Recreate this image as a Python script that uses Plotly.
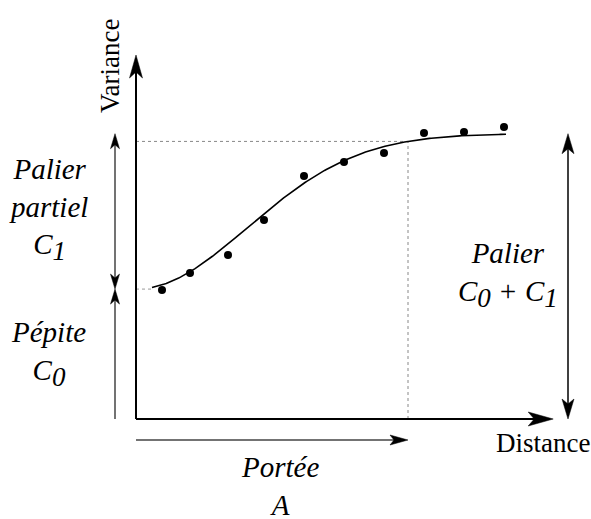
import numpy as np
import plotly.graph_objs as go

# experimental variogram points (distance, variance)
distance = [0.65, 1.35, 2.3, 3.2, 4.2, 5.2, 6.2, 7.2, 8.2, 9.2]
variance = [4.61, 5.21, 5.86, 7.11, 8.68, 9.18, 9.5, 10.21, 10.25, 10.43]

# gaussian model parameters
C0 = 4.64   # nugget (pepite)
C1 = 5.55   # partial sill
A = 6.8     # range (portee)
H_MAX = 9.25

X_END = 10.43   # end of distance axis
Y_END = 13.0    # end of variance axis

# pixels per data unit (used for the layout + arrow heads)
PX_X = 40.0
PX_Y = 28.0
W, H = 591, 519
X0_PX, Y0_PX = 136, 419

SERIF = "Liberation Serif"


def model(h):
    return C0 + C1 * (1 - np.exp(-3 * (h / A) ** 2))


def arrow_head(x, y, dx, dy, length, half, notch, color="black"):
    # build a notched arrow head polygon in pixel space then convert to data units
    d = np.array([dx, dy], dtype=float)
    d = d / np.linalg.norm(d)
    n = np.array([-d[1], d[0]])
    tip = np.array([0.0, 0.0])
    base = tip - d * length
    pts = [tip, base + n * half, tip - d * (length - notch), base - n * half, tip]
    xs = [x + p[0] / PX_X for p in pts]
    ys = [y + p[1] / PX_Y for p in pts]
    return go.Scatter(x=xs, y=ys, mode="lines", fill="toself", fillcolor=color,
                      line=dict(color=color, width=0.5), hoverinfo="skip", showlegend=False)


def seg(x, y, color="black", width=2, dash=None):
    return go.Scatter(x=x, y=y, mode="lines", line=dict(color=color, width=width, dash=dash),
                      hoverinfo="skip", showlegend=False)


fig = go.Figure()

sill = C0 + C1
gA = float(model(A))
left_x = -21 / PX_X
right_x = 432 / PX_X
bottom_y = -21 / PX_Y

# dotted guides
fig.add_trace(seg([0, A], [gA, gA], color="#888", width=1, dash="dot"))
fig.add_trace(seg([A, A], [0, gA], color="#888", width=1, dash="dot"))
fig.add_trace(seg([0, 0.4], [C0, C0], color="#999", width=1, dash="dot"))

# axes
fig.add_trace(seg([0, 0], [0, Y_END - 12 / PX_Y]))
fig.add_trace(arrow_head(0, Y_END, 0, 1, 23, 6.5, 6))
fig.add_trace(seg([0, X_END - 12 / PX_X], [0, 0]))
fig.add_trace(arrow_head(X_END, 0, 1, 0, 25, 7, 6))

# model curve
h = np.linspace(0.4, H_MAX, 200)
fig.add_trace(go.Scatter(x=h, y=model(h), mode="lines", line=dict(color="black", width=1.6),
                         hoverinfo="skip", showlegend=False))

# experimental points
fig.add_trace(go.Scatter(x=distance, y=variance, mode="markers",
                         marker=dict(color="black", size=8), showlegend=False))

# left arrows: nugget and partial sill
fig.add_trace(seg([left_x, left_x], [0, C0 - 8 / PX_Y], color="#444", width=1.5))
fig.add_trace(arrow_head(left_x, C0, 0, 1, 15, 4.5, 4))
fig.add_trace(seg([left_x, left_x], [C0 + 8 / PX_Y, sill - 8 / PX_Y], color="#444", width=1.5))
fig.add_trace(arrow_head(left_x, C0, 0, -1, 15, 4.5, 4))
fig.add_trace(arrow_head(left_x, sill, 0, 1, 15, 4.5, 4))

# right arrow: total sill
fig.add_trace(seg([right_x, right_x], [10 / PX_Y, sill - 10 / PX_Y], width=1.5))
fig.add_trace(arrow_head(right_x, sill, 0, 1, 20, 6, 5))
fig.add_trace(arrow_head(right_x, 0, 0, -1, 20, 6, 5))

# bottom arrow: range
fig.add_trace(seg([0, A - 8 / PX_X], [bottom_y, bottom_y], color="#444", width=1.5))
fig.add_trace(arrow_head(A, bottom_y, 1, 0, 18, 5, 4))


def label(text, x, y, size=29, italic=True, angle=0):
    fig.add_annotation(x=x, y=y, xref="x", yref="y", text=text, showarrow=False,
                       textangle=angle, align="center",
                       font=dict(family=SERIF, size=size, color="black",
                                 style="italic" if italic else "normal"))


def px(xp, yp):
    return (xp - X0_PX) / PX_X, (Y0_PX - yp) / PX_Y


sub0 = 'C<sub><span style="font-size:27px">0</span></sub>'
sub1 = 'C<sub><span style="font-size:27px">1</span></sub>'

label("Variance", *px(110, 66), size=27, italic=False, angle=-90)
label("Distance", *px(543, 443), size=27, italic=False)
label("Palier<br>partiel<br>" + sub1, *px(48, 209))
label("Pépite<br>" + sub0, *px(48, 354))
label("Palier<br>" + sub0 + " + " + sub1, *px(508, 275))
label("Portée<br>A", *px(280, 486))

fig.update_layout(
    width=W, height=H,
    margin=dict(l=0, r=0, t=0, b=0),
    plot_bgcolor="white", paper_bgcolor="white",
    xaxis=dict(range=[-X0_PX / PX_X, (W - X0_PX) / PX_X], visible=False, fixedrange=True),
    yaxis=dict(range=[-(H - Y0_PX) / PX_Y, Y0_PX / PX_Y], visible=False, fixedrange=True),
    showlegend=False,
)

fig.write_html("out.html", config={"displayModeBar": False},
               post_script="document.body.style.margin='0';")
